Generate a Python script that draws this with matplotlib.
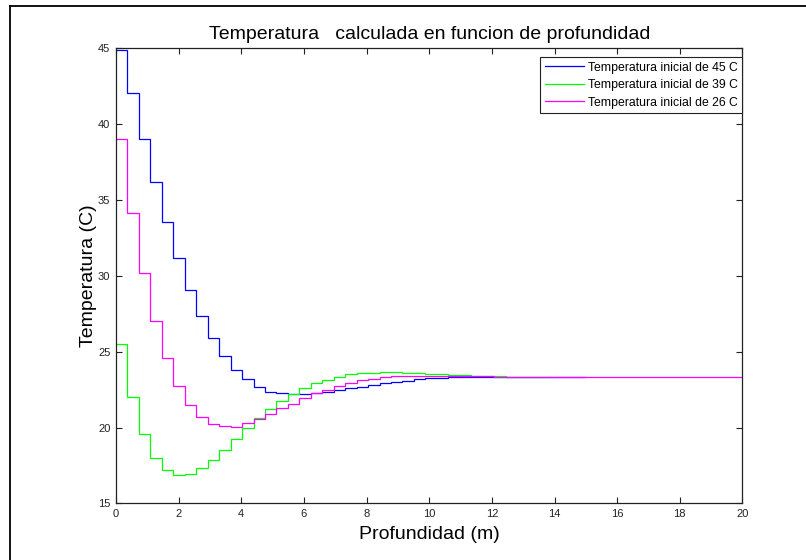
import numpy as np
import matplotlib
matplotlib.use("Agg")
import matplotlib.pyplot as plt
from matplotlib.lines import Line2D

plt.rcParams['font.family'] = ['Liberation Sans', 'DejaVu Sans']

# layer thickness (m) used by all three profiles
dz = 15 / 41

# temperature per layer
temp_45 = [44.9, 42.05, 39.03, 36.18, 33.58, 31.17, 29.08, 27.35, 25.92, 24.75,
           23.83, 23.19, 22.71, 22.38, 22.27, 22.20, 22.20, 22.29, 22.38, 22.49,
           22.60, 22.71, 22.82, 22.93, 23.02, 23.10, 23.19, 23.26, 23.26, 23.32,
           23.33, 23.36, 23.37, 23.37, 23.37, 23.37, 23.37, 23.37, 23.37, 23.37,
           23.37]
temp_39 = [25.54, 22.03, 19.61, 17.98, 17.19, 16.88, 16.94, 17.31, 17.87, 18.55,
           19.22, 19.97, 20.62, 21.22, 21.78, 22.21, 22.60, 22.93, 23.15, 23.33,
           23.52, 23.59, 23.63, 23.66, 23.66, 23.62, 23.59, 23.56, 23.52, 23.50,
           23.46, 23.42, 23.41, 23.39, 23.37, 23.35, 23.33, 23.33]
temp_26 = [39.05, 34.16, 30.18, 27.04, 24.58, 22.75, 21.52, 20.73, 20.25, 20.11,
           20.07, 20.29, 20.60, 20.89, 21.27, 21.59, 21.94, 22.27, 22.51, 22.77,
           22.97, 23.13, 23.21, 23.33, 23.39, 23.42, 23.43, 23.43, 23.43, 23.43,
           23.43, 23.43, 23.43, 23.37, 23.37, 23.37, 23.37, 23.37, 23.37, 23.37,
           23.37, 23.37, 23.37, 23.37, 23.37, 23.37, 23.37, 23.37, 23.37, 23.37,
           23.37, 23.37, 23.37, 23.37, 23.37]

labels = ['Temperatura inicial de 45 C', 'Temperatura inicial de 39 C',
          'Temperatura inicial de 26 C']
colors = ['#0000ff', '#00ff00', '#ff00ff']

fig = plt.figure(figsize=(8.06, 5.6), dpi=100)
ax = fig.add_axes([0.1439, 0.1009, 0.7773, 0.8125])

for temps, lab, col in zip([temp_45, temp_39, temp_26], labels, colors):
    edges = np.arange(len(temps) + 1) * dz
    ax.stairs(temps, edges, baseline=None, color=col, linewidth=0.9, label=lab)

ax.set_xlim(0, 20)
ax.set_ylim(15, 45)
ax.set_xticks(np.arange(0, 21, 2))
ax.set_yticks(np.arange(15, 46, 5))
ax.tick_params(direction='in', length=4, width=0.8, top=True, right=True,
               labelsize=8, pad=4, colors='#222222')
for s in ax.spines.values():
    s.set_linewidth(0.9)
    s.set_color('#222222')

ax.set_title('Temperatura   calculada en funcion de profundidad', fontsize=14, pad=7)
ax.set_xlabel('Profundidad (m)', fontsize=14, labelpad=5)
ax.set_ylabel('Temperatura (C)', fontsize=14, labelpad=1)

leg = ax.legend(loc='upper right', bbox_to_anchor=(1.0, 0.982), borderaxespad=0,
                fontsize=8.8, fancybox=False, framealpha=1, edgecolor='#222222',
                handlelength=3.2, handletextpad=0.3, labelspacing=0.45, borderpad=0.4)
leg.get_frame().set_linewidth(0.8)

# outer window border (left and top edges of the screenshot)
fig.add_artist(Line2D([10 / 806, 10 / 806], [0, 1 - 6 / 560], color='black', linewidth=1.3))
fig.add_artist(Line2D([10 / 806, 1], [1 - 6 / 560, 1 - 6 / 560], color='black', linewidth=1.3))

fig.savefig('out.png', dpi=100)
